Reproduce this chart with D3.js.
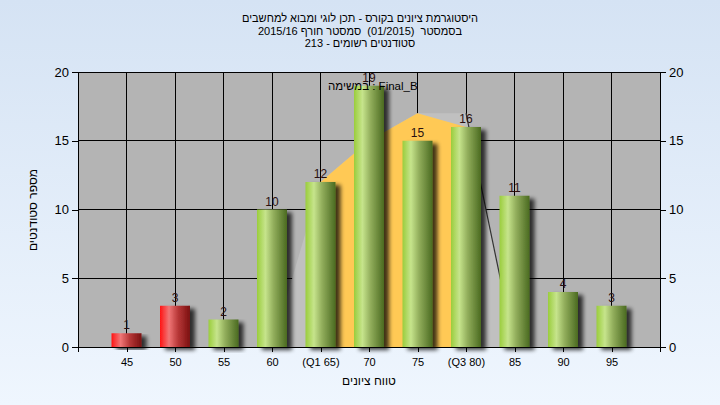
<!DOCTYPE html>
<html><head><meta charset="utf-8">
<script src="https://cdn.jsdelivr.net/npm/d3@7"></script>
<style>
body{margin:0;background:#fff}
svg{display:block}
text{font-family:"Liberation Sans",Arial,sans-serif;fill:#000;white-space:pre}
</style>
</head><body>
<svg id="chart" width="720" height="405"></svg>
<script>
// ---- data ----
const categories = ["45","50","55","60","(Q1 65)","70","75","(Q3 80)","85","90","95"];
const counts     = [1,3,2,10,12,19,15,16,11,4,3];
const barKinds   = ["fail","fail","pass","pass","pass","pass","pass","pass","pass","pass","pass"];
const yTicks     = [0,5,10,15,20];
const grayAreaCats = ["60","(Q1 65)","70","75","(Q3 80)","85"];
const grayAreaVals = [0,12,15,17,17,0];
const orangeCats   = ["(Q1 65)","70","75","(Q3 80)"];
const orangeVals   = [12,15,17,16];
const lineCats     = ["(Q3 80)","85"];
const lineVals     = [17,0];
const titleLines = [
  "היסטוגרמת ציונים בקורס - תכן לוגי ומבוא למחשבים",
  "בסמסטר  (01/2015)  סמסטר חורף 2015/16",
  "סטודנטים רשומים - 213"
];
const taskLabel = "במשימה : Final_B";
const xTitle = "טווח ציונים";
const yTitle = "מספר סטודנטים";

// ---- layout ----
const W = 720, H = 405;
const plot = {left:78, right:660, top:72, bottom:347};

const svg = d3.select("#chart");
const defs = svg.append("defs");

const bg = defs.append("linearGradient").attr("id","bg").attr("x1",0).attr("y1",0).attr("x2",0).attr("y2",1);
bg.append("stop").attr("offset","0%").attr("stop-color","#d5e3f4");
bg.append("stop").attr("offset","100%").attr("stop-color","#eff6fe");

function barGrad(id, stops){
  const g = defs.append("linearGradient").attr("id",id).attr("x1",0).attr("y1",0).attr("x2",1).attr("y2",0);
  stops.forEach(s=>g.append("stop").attr("offset",s[0]).attr("stop-color",s[1]));
}
barGrad("gpass",[["0%","#9acd3c"],["28%","#c6e48c"],["55%","#92ae5c"],["100%","#4a6a20"]]);
barGrad("gfail",[["0%","#ff1414"],["30%","#f07676"],["60%","#b83838"],["100%","#7a1010"]]);

const sh = defs.append("filter").attr("id","shadow").attr("x","-30%").attr("y","-10%").attr("width","180%").attr("height","130%");
sh.append("feGaussianBlur").attr("in","SourceAlpha").attr("stdDeviation",2).attr("result","b");
sh.append("feOffset").attr("in","b").attr("dx",5).attr("dy",3).attr("result","o");
sh.append("feComponentTransfer").attr("in","o").attr("result","o2")
  .append("feFuncA").attr("type","linear").attr("slope",0.75);
const m = sh.append("feMerge");
m.append("feMergeNode").attr("in","o2");
m.append("feMergeNode").attr("in","SourceGraphic");

svg.append("rect").attr("width",W).attr("height",H).attr("fill","url(#bg)");

const x = d3.scalePoint().domain(categories).range([plot.left, plot.right]).padding(1);
const y = d3.scaleLinear().domain([0,20]).range([plot.bottom, plot.top]);

// plot background
svg.append("rect").attr("x",plot.left).attr("y",plot.top)
  .attr("width",plot.right-plot.left).attr("height",plot.bottom-plot.top).attr("fill","#b4b4b4");

// gridlines
const grid = svg.append("g").attr("stroke","#000").attr("stroke-width",1).attr("shape-rendering","crispEdges");
grid.selectAll("line.h").data(yTicks.filter(d=>d>0)).join("line")
  .attr("x1",plot.left).attr("x2",plot.right).attr("y1",d=>y(d)).attr("y2",d=>y(d));
grid.selectAll("line.v").data(categories).join("line")
  .attr("x1",d=>x(d)).attr("x2",d=>x(d)).attr("y1",plot.top).attr("y2",plot.bottom);

// areas
const pts = (cats, vals) => cats.map((c,i)=>[x(c), y(vals[i])]);
const grayPts = pts(grayAreaCats, grayAreaVals);
svg.append("path").attr("d", d3.line()(grayPts.concat([[x(grayAreaCats[grayAreaCats.length-1]), y(0)],[x(grayAreaCats[0]), y(0)]])) + "Z")
  .attr("fill","#c0c0c0");
const area = d3.area().x(d=>d[0]).y0(y(0)).y1(d=>d[1]);
svg.append("path").attr("d", area(pts(orangeCats, orangeVals))).attr("fill","#ffc955");
svg.append("path").attr("d", d3.line()(pts(lineCats, lineVals))).attr("fill","none").attr("stroke","#333").attr("stroke-width",1.2);

// bars
const barW = 30;
svg.append("g").selectAll("rect").data(counts).join("rect")
  .attr("x",(d,i)=>x(categories[i]) - barW/2)
  .attr("width",barW)
  .attr("y",d=>y(d))
  .attr("height",d=>y(0)-y(d))
  .attr("fill",(d,i)=> barKinds[i]==="fail" ? "url(#gfail)" : "url(#gpass)")
  .attr("filter","url(#shadow)");

// baseline
svg.append("line").attr("x1",plot.left).attr("x2",plot.right).attr("y1",plot.bottom).attr("y2",plot.bottom)
  .attr("stroke","#000").attr("shape-rendering","crispEdges");

// value labels
svg.append("g").selectAll("text").data(counts).join("text")
  .attr("x",(d,i)=>x(categories[i]))
  .attr("y",d=>y(d)-4)
  .attr("text-anchor","middle").attr("font-size",12)
  .style("fill","#2a1010")
  .text(d=>d);

// axes
function styleAxis(g, fs){
  g.selectAll("path,line").attr("stroke","#000").attr("shape-rendering","crispEdges");
  g.selectAll("text").attr("font-size",fs).style("fill","#000").attr("font-family","Liberation Sans, Arial, sans-serif");
}
svg.append("g").attr("transform",`translate(${plot.left},0)`)
  .call(d3.axisLeft(y).tickValues(yTicks).tickSize(6).tickPadding(3))
  .call(g=>styleAxis(g,13));
svg.append("g").attr("transform",`translate(${plot.right},0)`)
  .call(d3.axisRight(y).tickValues(yTicks).tickSize(6).tickPadding(3))
  .call(g=>styleAxis(g,13));
svg.append("g").attr("transform",`translate(0,${plot.bottom})`)
  .call(d3.axisBottom(x).tickSize(5).tickSizeOuter(5).tickPadding(6))
  .call(g=>styleAxis(g,11));
// top border
svg.append("line").attr("x1",plot.left).attr("x2",plot.right).attr("y1",plot.top).attr("y2",plot.top)
  .attr("stroke","#000").attr("shape-rendering","crispEdges");

// task label
svg.append("text").attr("x",328).attr("y",90).attr("font-size",11.5).text(taskLabel);

// titles
svg.append("g").selectAll("text").data(titleLines).join("text")
  .attr("x",360).attr("y",(d,i)=>22+i*12.5)
  .attr("text-anchor","middle").attr("font-size",11).text(d=>d);

svg.append("text").attr("x",369).attr("y",385).attr("text-anchor","middle").attr("font-size",12).text(xTitle);
svg.append("text").attr("transform","translate(37,210) rotate(-90)").attr("text-anchor","middle").attr("font-size",12).text(yTitle);
</script>
</body></html>
